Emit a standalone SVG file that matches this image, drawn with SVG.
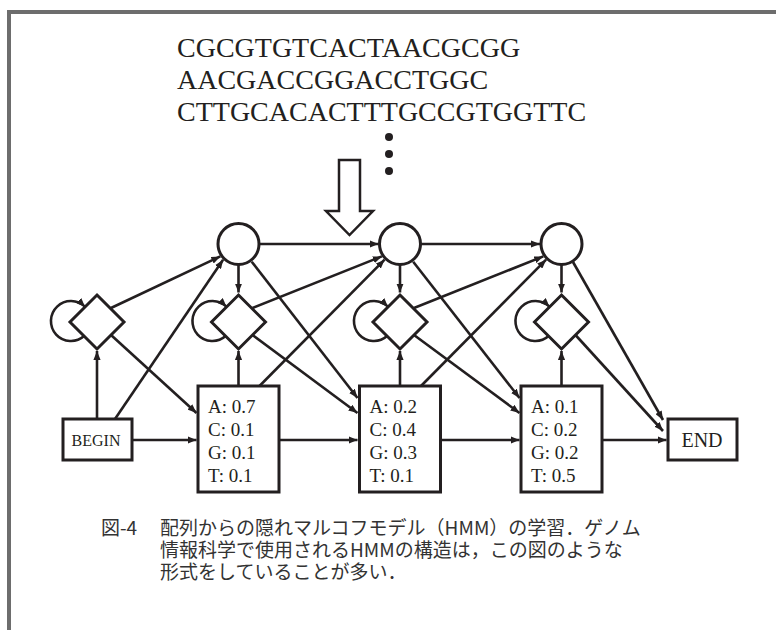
<svg xmlns="http://www.w3.org/2000/svg" width="776" height="630" viewBox="0 0 776 630">
<defs>
<marker id="ah" viewBox="0 0 10 8" refX="10" refY="4" markerWidth="9" markerHeight="7.2" markerUnits="userSpaceOnUse" orient="auto">
<path d="M0,0 L10,4 L0,8 z" fill="#231f20"/>
</marker>
<style>
.node{fill:#fff;stroke:#231f20;stroke-width:3}
.edge{fill:none;stroke:#231f20;stroke-width:2.6;marker-end:url(#ah)}
.seq{font-family:"Liberation Serif",serif;font-size:28px;fill:#231f20}
.em{font-family:"Liberation Serif",serif;font-size:19px;fill:#231f20}
.cap{font-family:"Noto Sans CJK JP",sans-serif;font-size:19px;fill:#333}
</style>
</defs>
<rect width="776" height="630" fill="#fff"/>
<g id="frame" fill="#6d6d6d">
<rect x="7" y="10" width="769" height="4"/>
<rect x="7" y="10" width="4" height="620"/>
</g>
<g id="sequences">
<text class="seq" x="177" y="57">CGCGTGTCACTAACGCGG</text>
<text class="seq" x="177" y="89">AACGACCGGACCTGGC</text>
<text class="seq" x="177" y="121">CTTGCACACTTTGCCGTGGTTC</text>
<circle cx="389" cy="137" r="4" fill="#231f20"/>
<circle cx="389" cy="154" r="4" fill="#231f20"/>
<circle cx="389" cy="171" r="4" fill="#231f20"/>
</g>
<g id="big-arrow">
<polygon points="339,160 360,160 360,211 373,211 349.5,235 326,211 339,211" fill="#fff" stroke="#231f20" stroke-width="2.5" stroke-linejoin="miter"/>
</g>
<g id="connectors">
<path class="edge" d="M97,419 L97,351"/>
<path class="edge" d="M115,419 L223.1,259.7"/>
<path class="edge" d="M132,440 L196.5,440"/>
<path class="edge" d="M279,440 L357.5,440"/>
<path class="edge" d="M440.5,440 L519.5,440"/>
<path class="edge" d="M602,440 L666.5,440"/>
<path class="edge" d="M238.5,386 L238.5,351"/>
<path class="edge" d="M400,386 L400,351"/>
<path class="edge" d="M561.5,386 L561.5,351"/>
<path class="edge" d="M259.5,386 L384.6,259.7"/>
<path class="edge" d="M421,386 L546.1,259.7"/>
<path class="edge" d="M259.2,244 L378.5,244"/>
<path class="edge" d="M420.7,244 L540,244"/>
<path class="edge" d="M238.5,264.7 L238.5,292.5"/>
<path class="edge" d="M400,264.7 L400,292.5"/>
<path class="edge" d="M561.5,264.7 L561.5,292.5"/>
<path class="edge" d="M251.7,261.7 L357.5,398"/>
<path class="edge" d="M413.2,261.7 L519.5,398"/>
<path class="edge" d="M573,262 L663,420"/>
<path class="edge" d="M111,308 L220.3,256.4"/>
<path class="edge" d="M252.5,308 L381.8,256.4"/>
<path class="edge" d="M414,308 L543.3,256.4"/>
<path class="edge" d="M111,335 L196.5,413"/>
<path class="edge" d="M252.5,335 L357.5,413"/>
<path class="edge" d="M414,335 L519.5,413"/>
<path class="edge" d="M575.5,335 L663,431"/>
<path class="edge" d="M84.1,336.1 A20 20 0 1 1 85.1,306.9"/>
<path class="edge" d="M225.6,336.1 A20 20 0 1 1 226.6,306.9"/>
<path class="edge" d="M387.1,336.1 A20 20 0 1 1 388.1,306.9"/>
<path class="edge" d="M548.6,336.1 A20 20 0 1 1 549.6,306.9"/>
</g>
<g id="begin"><rect class="node" x="63" y="419" width="69" height="41"/><text class="em" x="96" y="446" text-anchor="middle" style="font-size:16px">BEGIN</text></g>
<g id="end"><rect class="node" x="668" y="419" width="69" height="41"/><text class="em" x="702" y="447" text-anchor="middle" style="font-size:20px">END</text></g>
<g id="d0"><polygon class="node" points="97,295 124,322 97,349 70,322"/></g>
<g id="d1"><polygon class="node" points="238.5,295 265.5,322 238.5,349 211.5,322"/></g>
<g id="d2"><polygon class="node" points="400,295 427,322 400,349 373,322"/></g>
<g id="d3"><polygon class="node" points="561.5,295 588.5,322 561.5,349 534.5,322"/></g>
<g id="c1"><circle class="node" cx="238.5" cy="244" r="20.5"/></g>
<g id="c2"><circle class="node" cx="400" cy="244" r="20.5"/></g>
<g id="c3"><circle class="node" cx="561.5" cy="244" r="20.5"/></g>
<g id="b1"><rect class="node" x="198" y="386" width="81" height="106"/>
<text class="em" x="208" y="413">A: 0.7</text><text class="em" x="208" y="436">C: 0.1</text><text class="em" x="208" y="459">G: 0.1</text><text class="em" x="208" y="482">T: 0.1</text></g>
<g id="b2"><rect class="node" x="359.5" y="386" width="81" height="106"/>
<text class="em" x="369.5" y="413">A: 0.2</text><text class="em" x="369.5" y="436">C: 0.4</text><text class="em" x="369.5" y="459">G: 0.3</text><text class="em" x="369.5" y="482">T: 0.1</text></g>
<g id="b3"><rect class="node" x="521" y="386" width="81" height="106"/>
<text class="em" x="531" y="413">A: 0.1</text><text class="em" x="531" y="436">C: 0.2</text><text class="em" x="531" y="459">G: 0.2</text><text class="em" x="531" y="482">T: 0.5</text></g>
<g id="caption">
<text class="cap"><tspan x="101" y="535">図-4</tspan><tspan x="160" y="535">配列からの隠れマルコフモデル（HMM）の学習．ゲノム</tspan><tspan x="160" y="557">情報科学で使用されるHMMの構造は，この図のような</tspan><tspan x="160" y="579">形式をしていることが多い．</tspan></text>
</g>
</svg>
